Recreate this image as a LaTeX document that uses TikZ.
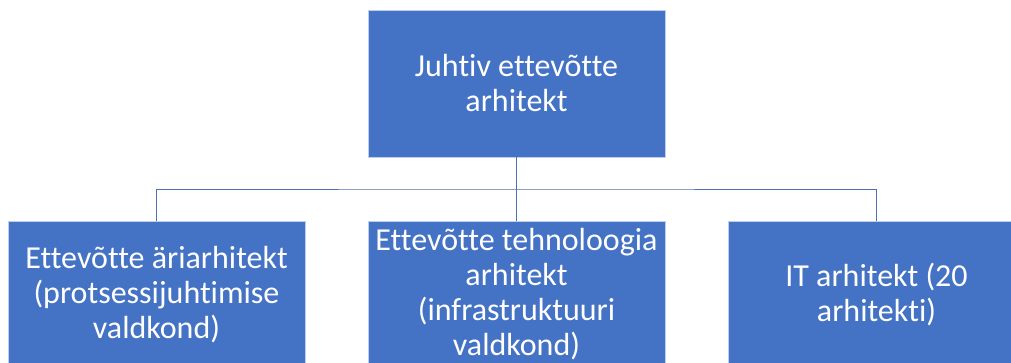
\documentclass[tikz,border=0pt]{standalone}
\usepackage{fontspec}
\setmainfont{Carlito}[Ligatures=NoCommon]
\definecolor{boxblue}{HTML}{4472C4}
\definecolor{linkblue}{HTML}{4A70B5}
\begin{document}
\begin{tikzpicture}[x=1pt,y=-1pt,
  role/.style={rectangle, fill=boxblue, draw=boxblue!35!white, line width=0.6pt,
    minimum width=297pt, minimum height=147pt, inner sep=0pt, text=white,
    align=center, font=\fontsize{32}{35}\selectfont},
  link/.style={draw=linkblue, line width=1pt}]
\useasboundingbox (0,0) rectangle (1011,362);
\clip (0,0) rectangle (1011,362);
% org chart boxes
\node[role] (lead) at (516.5,83.5) {Juhtiv ettevõtte\\arhitekt};
\node[role] (biz)  at (156.5,294.5) {Ettevõtte äriarhitekt\\(protsessijuhtimise\\valdkond)};
\node[role] (tech) at (516.5,294.5) {Ettevõtte tehnoloogia\\arhitekt\\(infrastruktuuri\\valdkond)};
\node[role] (it)   at (876.5,294.5) {IT arhitekt (20\\arhitekti)};
% connectors
\coordinate (bus) at (516.5,189);
\draw[link] (lead.south) -- (tech.north);
\draw[link] (biz.north) |- (bus) -| (it.north);
\end{tikzpicture}
\end{document}
